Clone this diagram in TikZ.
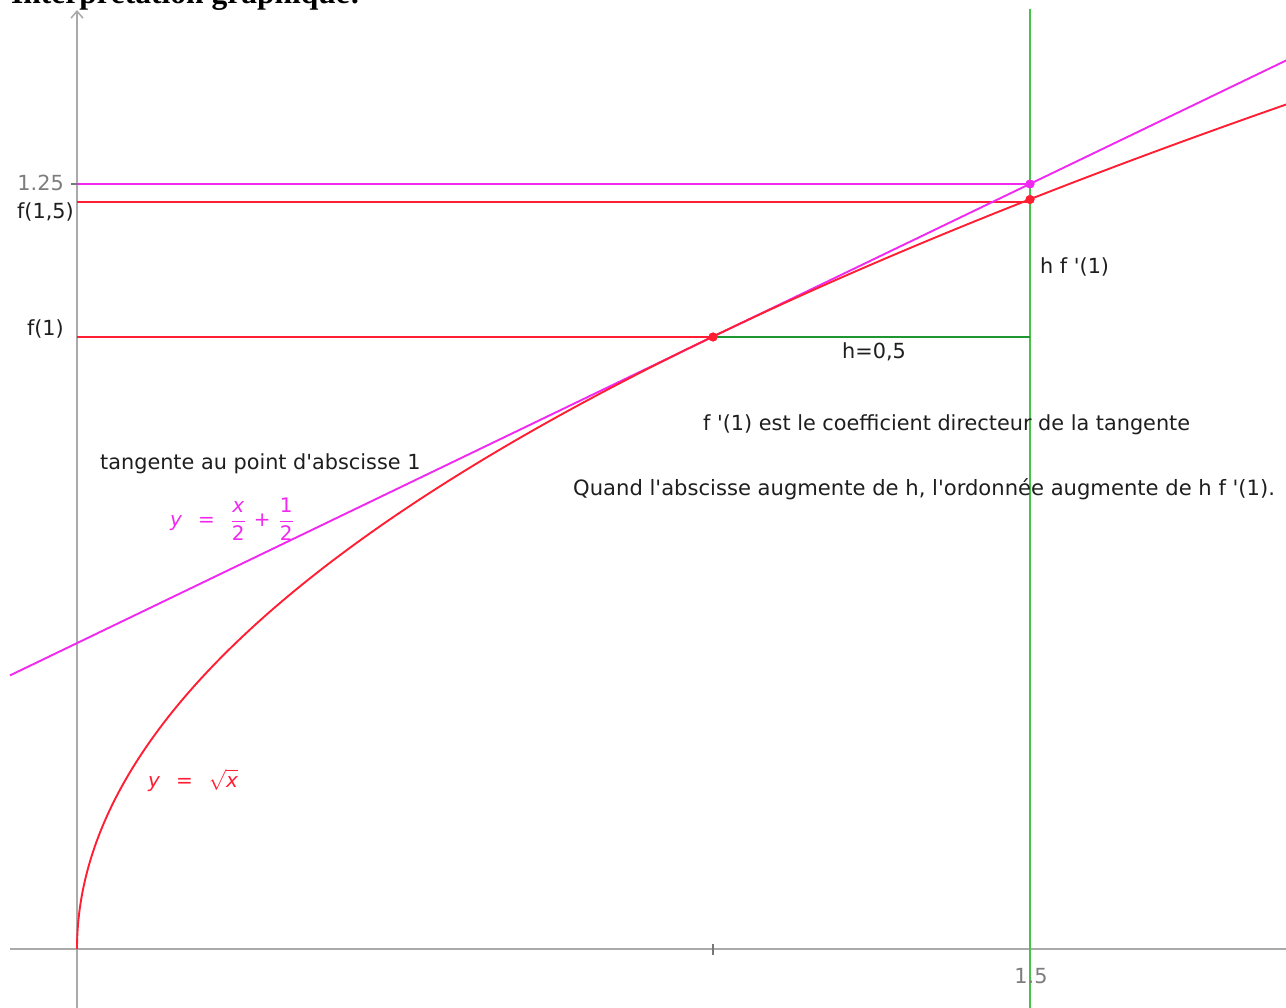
\documentclass[tikz,border=0pt]{standalone}
\usepackage{fontspec}
\setmainfont{DejaVu Sans}
\newfontfamily\titlefont{Liberation Serif}
\usetikzlibrary{arrows.meta}
\newcommand\ap{\textquotesingle}
\definecolor{axgray}{RGB}{170,170,170}
\definecolor{lblgray}{RGB}{125,125,125}
\definecolor{txt}{RGB}{30,30,30}
\definecolor{magc}{RGB}{240,40,240}
\definecolor{redc}{RGB}{255,30,50}
\definecolor{greenv}{RGB}{70,195,70}
\definecolor{greenh}{RGB}{30,150,50}
\tikzset{
  axis/.style={draw=axgray, line width=1.8pt},
  curvered/.style={draw=redc, line width=1.9pt},
  curvemag/.style={draw=magc, line width=1.9pt},
  lbl/.style={text=txt, inner sep=0pt, font=\fontsize{20.8}{22}\selectfont},
  axlbl/.style={text=lblgray, inner sep=0pt, font=\fontsize{20.8}{22}\selectfont},
  dotred/.style={circle, fill=redc, inner sep=0pt, minimum size=9pt},
  dotmag/.style={circle, fill=magc, inner sep=0pt, minimum size=9pt},
}
\begin{document}
\begin{tikzpicture}[x=1pt,y=-1pt]
\useasboundingbox (0,0) rectangle (1286,1008);
% title (cut at top, as in the reference)
\node[anchor=base west, inner sep=0pt, font=\titlefont\bfseries\fontsize{31.5}{34}\selectfont] (title) at (11,4) {Interprétation graphique:};
% axes
\coordinate (xl) at (10,949);
\coordinate (xr) at (1290,949);
\coordinate (yb) at (77,1010);
\coordinate (yt) at (77,10);
\draw[axis] (xl) -- (xr);
\draw[axis, -{Straight Barb[length=7pt,width=12pt,line width=1.5pt]}] (yb) -- (yt);
\draw[draw=axgray!70!black, line width=1.5pt] (713,944) -- (713,955);
\draw[draw=axgray!70!black, line width=1.5pt] (71,184) -- (83,184);
% points
\coordinate (O) at (77,949);
\node[dotred] (A) at (713,337) {};
\node[dotred] (B) at (1030,199.5) {};
\node[dotmag] (C) at (1030,184) {};
% green vertical
\coordinate (gt) at (1030,9);
\coordinate (gb) at (1030,1010);
\draw[draw=greenv, line width=1.9pt] (gt) -- (gb);
% horizontal guides
\coordinate (y125) at (77,184);
\coordinate (yf15) at (77,202);
\coordinate (yf1) at (77,337);
\coordinate (H) at (1030,337);
\coordinate (F15) at (1030,202);
\draw[curvemag] (y125) -- (C.center);
\draw[curvered] (yf15) -- (F15);
\draw[curvered] (yf1) -- (A.center);
\draw[draw=greenh, line width=1.7pt] (A.center) -- (H);
% tangent y = x/2 + 1/2
\coordinate (tl) at (10,675.4);
\coordinate (tr) at (1290,58.6);
\draw[curvemag] (tl) -- (tr);
% curve y = sqrt(x)
\draw[curvered] plot[domain=0:1.382, samples=120, smooth] ({77+635*\x*\x},{949-612*\x});
% redraw points on top
\node[dotred] at (A) {};
\node[dotred] at (B) {};
\node[dotmag] at (C) {};
% labels
\node[axlbl, anchor=base east] (l125) at (64,191) {1.25};
\node[lbl, anchor=base east] (lf15) at (74,219) {f(1,5)};
\node[lbl, anchor=base east] (lf1) at (64,336) {f(1)};
\node[axlbl, anchor=base] (l15) at (1031,983) {1.5};
\node[lbl, anchor=base west] (lhf) at (1040,274) {h f \ap(1)};
\node[lbl, anchor=base] (lh) at (874,359) {h=0,5};
\node[lbl, anchor=base west] (lcoef) at (703,431) {f \ap(1) est le coefficient directeur de la tangente};
\node[lbl, anchor=base west, font=\fontsize{21.1}{22}\selectfont] (lquand) at (573,495) {Quand l\ap abscisse augmente de h, l\ap ordonnée augmente de h f \ap(1).};
\node[lbl, anchor=base west] (ltan) at (100,469) {tangente au point d\ap abscisse 1};
\node[text=magc, inner sep=0pt, anchor=west, font=\fontsize{20}{21}\selectfont] (eqt) at (170,519)
  {$\displaystyle\mbox{\itshape y}\hspace{16pt}\mbox{=}\hspace{16pt}\frac{\mbox{\itshape x}}{\mbox{2}}\hspace{8pt}\mbox{+}\hspace{8pt}\frac{\mbox{1}}{\mbox{2}}$};
\node[text=redc, inner sep=0pt, anchor=west, font=\fontsize{20}{22}\selectfont] (eqc) at (148,780)
  {$\displaystyle\mbox{\itshape y}\hspace{16pt}\mbox{=}\hspace{16pt}\sqrt{\mbox{\itshape x}}$};
\end{tikzpicture}
\end{document}
